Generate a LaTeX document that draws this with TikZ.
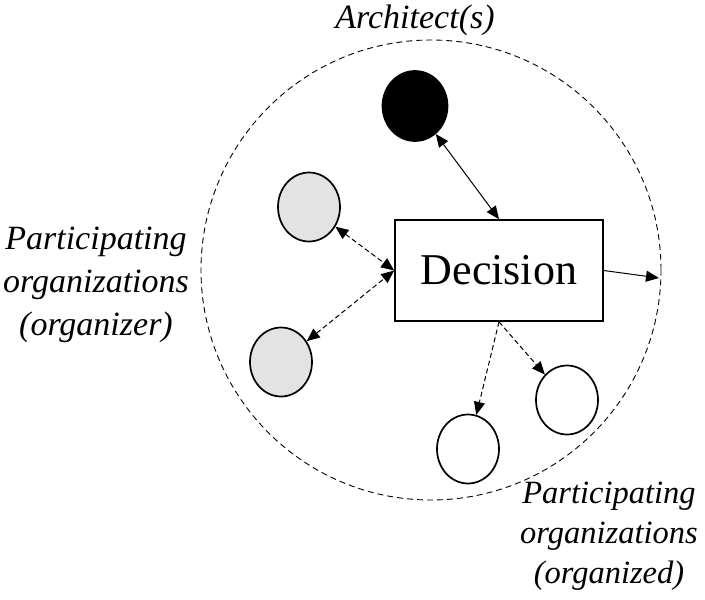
\documentclass[tikz,border=0pt]{standalone}
\usepackage{fontspec}
\setmainfont{Liberation Serif}
\usetikzlibrary{arrows.meta,shapes.geometric}
\definecolor{lightgr}{HTML}{E3E3E3}
\begin{document}
\begin{tikzpicture}[x=1pt,y=-1pt,
  actor/.style={draw=black,ellipse,line width=1.7pt,minimum width=62pt,minimum height=69pt,inner sep=0pt},
  decbox/.style={draw=black,rectangle,line width=1.7pt,minimum width=208pt,minimum height=101pt,inner sep=0pt,font=\fontsize{44}{50}\selectfont},
  lbl/.style={align=center,font=\fontsize{34}{43}\selectfont\itshape,inner sep=0pt},
  tip/.style={-{Triangle[length=13pt,width=11pt]}},
  dtip/.style={{Triangle[length=13pt,width=11pt]}-{Triangle[length=13pt,width=11pt]}},
  link/.style={line width=1pt},
  dlink/.style={line width=1pt,dash pattern=on 5pt off 3pt}]
\useasboundingbox (0,0) rectangle (705,600);
\node[draw=black,circle,line width=0.9pt,dash pattern=on 6pt off 4pt,minimum size=460pt,inner sep=0pt] (group) at (431,270) {};
\node[actor,fill=black,minimum width=65pt,minimum height=70pt] (arch) at (415,106) {};
\node[actor,fill=lightgr] (g1) at (309,207) {};
\node[actor,fill=lightgr] (g2) at (281,362) {};
\node[actor,fill=white] (w1) at (468,449) {};
\node[actor,fill=white] (w2) at (567,400) {};
\node[decbox] (dec) at (499,270.5) {Decision};
\coordinate (out) at (659,278);
\draw[link,dtip] (arch) -- (dec.north);
\draw[dlink,dtip] (g1) -- (dec.west);
\draw[dlink,dtip] (g2) -- (dec.west);
\draw[link,tip] (dec.east) -- (out);
\draw[dlink,tip] (dec.south) -- (w1);
\draw[dlink,tip] (dec.south) -- (w2);
\node[lbl] (tarch) at (415,20) {Architect(s)};
\node[lbl] (torg) at (96,285) {Participating\\organizations\\(organizer)};
\node[lbl,font=\fontsize{32.5}{40}\selectfont\itshape] (tord) at (609,536) {Participating\\organizations\\(organized)};
\end{tikzpicture}
\end{document}
